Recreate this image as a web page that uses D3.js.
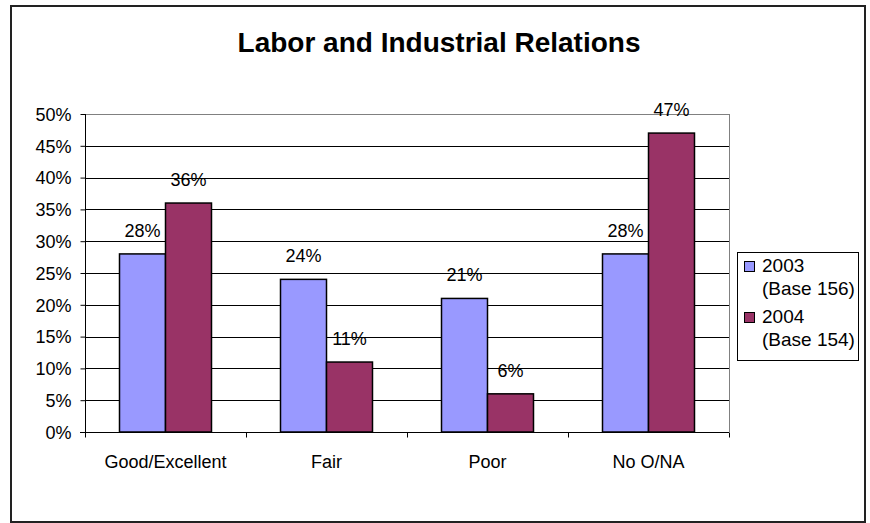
<!DOCTYPE html>
<html><head><meta charset="utf-8">
<script src="https://cdn.jsdelivr.net/npm/d3@7"></script>
<style>body{margin:0;background:#fff}svg{display:block}text{font-family:"Liberation Sans",Arial,sans-serif}</style>
</head><body>
<script>
const categories = ["Good/Excellent","Fair","Poor","No O/NA"];
const series2003 = [28,24,21,28];
const series2004 = [36,11,6,47];
const seriesNames = ["2003","2004"];
const seriesSub = ["(Base 156)","(Base 154)"];
const yTicks = [0,5,10,15,20,25,30,35,40,45,50];
const colors = ["#9999FF","#993366"];

const W=870,H=523;
const svg=d3.select("body").append("svg").attr("width",W).attr("height",H);
svg.append("rect").attr("x",11).attr("y",6).attr("width",854).attr("height",516).attr("fill","#fff").attr("stroke","#222").attr("stroke-width",2);

svg.append("text").attr("x",439).attr("y",52).attr("text-anchor","middle")
  .attr("font-size",28).attr("font-weight","bold").text("Labor and Industrial Relations");

const L=85,R=729,T=114,B=432;
const x=d3.scaleBand().domain(categories).range([L,R]).paddingInner(0.4286).paddingOuter(0.2143);
const xs=d3.scaleBand().domain([0,1]).range([0,x.bandwidth()]);
const y=d3.scaleLinear().domain([0,50]).range([B,T]);

// gridlines
svg.append("g").selectAll("line").data(yTicks.filter(d=>d>0)).join("line")
  .attr("x1",L).attr("x2",R).attr("y1",d=>Math.round(y(d))+0.5).attr("y2",d=>Math.round(y(d))+0.5)
  .attr("stroke",d=>d===50?"#808080":"#000").attr("stroke-width",1);
svg.append("line").attr("x1",R+0.5).attr("x2",R+0.5).attr("y1",T).attr("y2",B).attr("stroke","#808080");

const data=categories.map((c,i)=>({c,v:[series2003[i],series2004[i]]}));
const g=svg.append("g");
data.forEach(d=>{
  d.v.forEach((v,k)=>{
    g.append("rect").attr("x",x(d.c)+xs(k)).attr("y",y(v)).attr("width",xs.bandwidth()).attr("height",B-y(v))
      .attr("fill",colors[k]).attr("stroke","#000").attr("stroke-width",1.5);
    g.append("text").attr("x",x(d.c)+xs(k)+xs.bandwidth()/2).attr("y",y(v)-17).attr("text-anchor","middle")
      .attr("font-size",18).attr("fill","#000").text(v+"%");
  });
});

// y axis
const yAxis=d3.axisLeft(y).tickValues(yTicks).tickFormat(d=>d+"%").tickSize(5).tickPadding(9);
const ya=svg.append("g").attr("transform",`translate(${L+0.5},0)`).call(yAxis);
ya.selectAll("text").attr("font-size",18).attr("fill","#000").attr("dy","0.35em");
ya.selectAll("line,path").attr("stroke","#000");
ya.select(".domain").attr("d",`M0,${T}V${B}`);

// x axis
const xa=svg.append("g").attr("transform",`translate(0,${B+0.5})`);
xa.append("line").attr("x1",L-5).attr("x2",R).attr("stroke","#000");
const bounds=categories.map(c=>x(c)-x.step()*x.paddingInner()/2).concat([R]);
xa.selectAll("line.t").data(bounds).join("line").attr("class","t")
  .attr("x1",d=>Math.round(d)+0.5).attr("x2",d=>Math.round(d)+0.5).attr("y1",0).attr("y2",5).attr("stroke","#000");
xa.selectAll("text").data(categories).join("text").attr("x",d=>x(d)+x.bandwidth()/2).attr("y",35)
  .attr("text-anchor","middle").attr("font-size",18).attr("fill","#000").text(d=>d);

// legend
const lg=svg.append("g");
lg.append("rect").attr("x",737.5).attr("y",252.5).attr("width",121).attr("height",108).attr("fill","#fff").attr("stroke","#000");
seriesNames.forEach((n,k)=>{
  const by=272+k*51;
  lg.append("rect").attr("x",744.5).attr("y",by-10.5).attr("width",10).attr("height",10).attr("fill",colors[k]).attr("stroke","#000");
  lg.append("text").attr("x",762).attr("y",by).attr("font-size",19).text(n);
  lg.append("text").attr("x",762).attr("y",by+23).attr("font-size",19).text(seriesSub[k]);
});
</script>
</body></html>
